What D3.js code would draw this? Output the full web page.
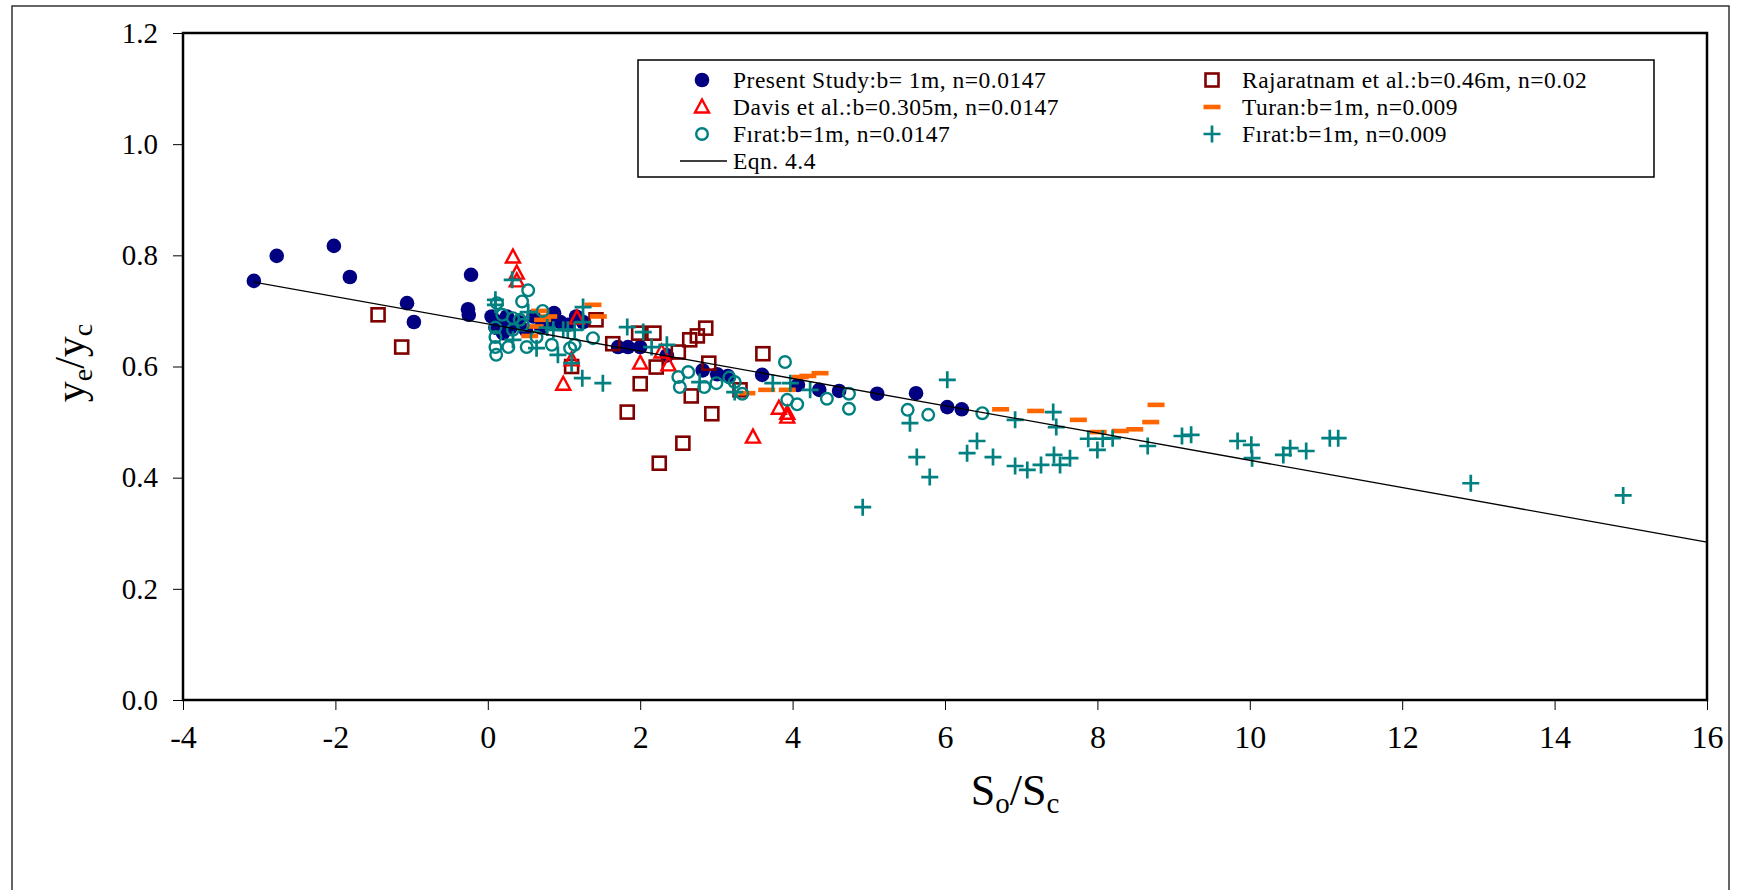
<!DOCTYPE html>
<html>
<head>
<meta charset="UTF-8">
<title>ye/yc vs So/Sc</title>
<script src="https://d3js.org/d3.v7.min.js"></script>
<style>
  body { margin: 0; background: #fff; }
  text { font-family: "Liberation Serif", "Times New Roman", serif; fill: #000; }
</style>
</head>
<body>
<svg id="chart"></svg>
<script>
// data: [So/Sc, ye/yc]
var presentStudy = [
  [-3.07,0.754],[-2.77,0.799],[-2.02,0.817],[-1.81,0.761],[-1.06,0.714],[-0.97,0.680],
  [-0.22,0.765],[-0.26,0.703],[-0.25,0.693],
  [0.05,0.690],[0.10,0.670],[0.15,0.680],[0.20,0.660],[0.25,0.690],[0.30,0.670],[0.40,0.680],
  [0.50,0.665],[0.60,0.690],[0.70,0.670],[0.80,0.680],[0.87,0.696],[0.95,0.680],[1.05,0.675],
  [1.16,0.690],[1.25,0.680],
  [1.71,0.635],[1.84,0.635],[2.00,0.635],[2.35,0.620],[2.82,0.593],[3.01,0.586],[3.15,0.583],
  [3.60,0.585],[4.07,0.567],[4.35,0.558],[4.61,0.556],[5.11,0.551],[5.62,0.552],[6.03,0.527],[6.22,0.523]
];
var rajaratnam = [
  [-1.44,0.693],[-1.13,0.635],[1.10,0.600],[1.42,0.684],[1.64,0.641],[1.83,0.518],[1.98,0.660],
  [2.00,0.569],[2.18,0.660],[2.21,0.599],[2.50,0.626],[2.65,0.648],[2.75,0.655],[2.86,0.669],
  [2.90,0.606],[2.67,0.547],[2.94,0.515],[2.56,0.462],[2.25,0.426],[3.31,0.558],[3.61,0.623]
];
var davis = [
  [0.33,0.797],[0.38,0.768],[0.38,0.754],[1.17,0.687],[1.10,0.612],[0.99,0.568],[2.00,0.606],
  [2.28,0.626],[2.37,0.603],[3.48,0.473],[3.82,0.525],[3.93,0.516],[3.93,0.509]
];
var turan = [
  [0.55,0.655],[0.62,0.672],[0.68,0.700],[0.72,0.684],[0.80,0.690],[1.38,0.711],[1.45,0.690],
  [3.40,0.552],[3.66,0.558],[3.93,0.558],[4.10,0.581],[4.20,0.583],[4.36,0.588],
  [6.73,0.523],[7.19,0.520],[7.75,0.504],[8.01,0.482],[8.30,0.484],[8.49,0.487],[8.70,0.500],[8.77,0.531]
];
var firat0147 = [
  [0.10,0.670],[0.10,0.653],[0.10,0.635],[0.11,0.621],[0.12,0.714],[0.19,0.693],[0.27,0.635],
  [0.33,0.687],[0.33,0.666],[0.42,0.684],[0.46,0.675],[0.45,0.717],[0.53,0.737],[0.51,0.635],
  [0.64,0.653],[0.72,0.700],[0.84,0.639],[1.08,0.633],[1.14,0.639],[1.38,0.651],
  [2.50,0.581],[2.52,0.563],[2.63,0.590],[2.84,0.563],[3.00,0.570],[3.17,0.580],[3.24,0.572],
  [3.34,0.551],[3.90,0.608],[3.93,0.540],[4.06,0.532],[4.45,0.542],[4.74,0.551],[4.74,0.524],
  [5.51,0.522],[5.78,0.513],[6.49,0.516]
];
var firat009 = [
  [0.10,0.720],[0.10,0.711],[0.32,0.756],[0.33,0.648],[0.53,0.698],[0.64,0.633],[0.78,0.670],
  [0.86,0.666],[0.92,0.621],[0.99,0.666],[1.05,0.666],[1.10,0.606],[1.14,0.666],[1.25,0.707],
  [1.25,0.680],[1.24,0.579],[1.51,0.570],[1.83,0.671],[2.04,0.662],[2.15,0.635],[2.35,0.639],
  [2.78,0.572],[3.24,0.554],[3.74,0.570],[3.97,0.570],[4.23,0.558],[4.92,0.347],[5.54,0.498],
  [5.63,0.437],[5.80,0.401],[6.03,0.576],[6.29,0.444],[6.42,0.466],[6.63,0.437],[6.92,0.504],
  [6.92,0.421],[7.08,0.414],[7.26,0.423],[7.42,0.518],[7.46,0.491],[7.43,0.441],[7.51,0.423],
  [7.64,0.435],[7.88,0.470],[8.00,0.450],[8.07,0.470],[8.20,0.471],[8.66,0.457],[9.11,0.475],
  [9.23,0.477],[9.84,0.466],[10.02,0.459],[10.03,0.435],[10.44,0.441],[10.53,0.453],[10.74,0.448],
  [11.05,0.471],[11.16,0.471],[12.90,0.390],[14.90,0.368]
];
var eqnLine = [[-3.07,0.752],[16,0.284]];

var xTicks = [-4,-2,0,2,4,6,8,10,12,14,16];
var yTicks = [0,0.2,0.4,0.6,0.8,1.0,1.2];

var legendLabels = [
  "Present Study:b= 1m, n=0.0147",
  "Rajaratnam et al.:b=0.46m, n=0.02",
  "Davis et al.:b=0.305m, n=0.0147",
  "Turan:b=1m, n=0.009",
  "F\u0131rat:b=1m, n=0.0147",
  "F\u0131rat:b=1m, n=0.009",
  "Eqn. 4.4"
];

(function() {
  var width = 1737, height = 890;
  var svg = d3.select("#chart").attr("width", width).attr("height", height);

  svg.append("rect").attr("width", width).attr("height", height).attr("fill", "#fff");
  // outer chart frame
  svg.append("rect").attr("x", 12).attr("y", 6).attr("width", 1717).attr("height", 920)
    .attr("fill", "none").attr("stroke", "#333").attr("stroke-width", 1.5);

  var x = d3.scaleLinear().domain([-4, 16]).range([183, 1707]);
  var y = d3.scaleLinear().domain([0, 1.2]).range([700, 33]);

  // marker shapes
  var shapes = {
    dot: function(g) {
      g.append("circle").attr("r", 7.3).attr("fill", "#000080");
    },
    square: function(g) {
      g.append("rect").attr("x", -6.5).attr("y", -6.5).attr("width", 13).attr("height", 13)
        .attr("fill", "none").attr("stroke", "#800000").attr("stroke-width", 2.6);
    },
    triangle: function(g) {
      g.append("path").attr("d", "M0,-7.5L7,5.5L-7,5.5Z")
        .attr("fill", "none").attr("stroke", "#ff0000").attr("stroke-width", 2.4);
    },
    dash: function(g) {
      g.append("rect").attr("x", -8.5).attr("y", -2.3).attr("width", 17).attr("height", 4.6)
        .attr("fill", "#ff6600");
    },
    ring: function(g) {
      g.append("circle").attr("r", 5.8).attr("fill", "none")
        .attr("stroke", "#008080").attr("stroke-width", 2.4);
    },
    plus: function(g) {
      g.append("path").attr("d", "M-8.5,0H8.5M0,-8.5V8.5")
        .attr("stroke", "#008080").attr("stroke-width", 2.7);
    }
  };

  var series = [
    {data: presentStudy, shape: "dot"},
    {data: rajaratnam, shape: "square"},
    {data: davis, shape: "triangle"},
    {data: turan, shape: "dash"},
    {data: firat0147, shape: "ring"},
    {data: firat009, shape: "plus"}
  ];

  var plot = svg.append("g");
  series.forEach(function(s) {
    plot.append("g").selectAll("g")
      .data(s.data)
      .enter().append("g")
      .attr("transform", function(d) { return "translate(" + x(d[0]) + "," + y(d[1]) + ")"; })
      .each(function() { shapes[s.shape](d3.select(this)); });
  });

  plot.append("path")
    .datum(eqnLine)
    .attr("d", d3.line().x(function(d) { return x(d[0]); }).y(function(d) { return y(d[1]); }))
    .attr("fill", "none").attr("stroke", "#000").attr("stroke-width", 1.3);

  // plot frame
  svg.append("rect").attr("x", 183).attr("y", 33).attr("width", 1707 - 183).attr("height", 700 - 33)
    .attr("fill", "none").attr("stroke", "#000").attr("stroke-width", 2.5);

  // axes (plain hyphen for negatives, like the original)
  var xAxis = svg.append("g").attr("transform", "translate(0,700)")
    .call(d3.axisBottom(x).tickValues(xTicks).tickSize(10).tickPadding(15)
      .tickFormat(function(d) { return String(d); }));
  xAxis.select(".domain").remove();
  xAxis.selectAll("text").attr("font-size", 32).style("font-family", "Liberation Serif");

  var yAxis = svg.append("g").attr("transform", "translate(183,0)")
    .call(d3.axisLeft(y).tickValues(yTicks).tickSize(10).tickPadding(15).tickFormat(d3.format(".1f")));
  yAxis.select(".domain").remove();
  yAxis.selectAll("text").attr("font-size", 29).style("font-family", "Liberation Serif");
  svg.selectAll(".tick line").attr("stroke", "#000").attr("stroke-width", 1);

  // axis titles
  var xt = svg.append("text").attr("x", 1015).attr("y", 805).attr("text-anchor", "middle").attr("font-size", 44);
  xt.append("tspan").text("S");
  xt.append("tspan").attr("font-size", 29).attr("dy", 8).text("o");
  xt.append("tspan").attr("dy", -8).text("/S");
  xt.append("tspan").attr("font-size", 29).attr("dy", 8).text("c");

  var yt = svg.append("text").attr("transform", "translate(84,363) rotate(-90)")
    .attr("text-anchor", "middle").attr("font-size", 42);
  yt.append("tspan").text("y");
  yt.append("tspan").attr("font-size", 28).attr("dy", 8).text("e");
  yt.append("tspan").attr("dy", -8).text("/y");
  yt.append("tspan").attr("font-size", 28).attr("dy", 8).text("c");

  // legend
  var leg = svg.append("g");
  leg.append("rect").attr("x", 638).attr("y", 60).attr("width", 1654 - 638).attr("height", 117)
    .attr("fill", "#fff").attr("stroke", "#000").attr("stroke-width", 1.5);
  var legRows = [80, 107, 134, 161];
  var legShapes = ["dot", "square", "triangle", "dash", "ring", "plus"];
  legendLabels.forEach(function(label, i) {
    var col = i % 2, row = Math.floor(i / 2);
    var mx = col === 0 ? 702 : 1212, tx = col === 0 ? 733 : 1242;
    var cy = legRows[row];
    if (i < legShapes.length) {
      var g = leg.append("g").attr("transform", "translate(" + mx + "," + cy + ")");
      shapes[legShapes[i]](g);
    } else {
      leg.append("line").attr("x1", 680).attr("x2", 727).attr("y1", cy).attr("y2", cy)
        .attr("stroke", "#000").attr("stroke-width", 1.3);
    }
    leg.append("text").attr("x", tx).attr("y", cy).attr("dy", "0.35em")
      .attr("font-size", 23.5).attr("letter-spacing", 0.5).text(label);
  });
})();
</script>
</body>
</html>
